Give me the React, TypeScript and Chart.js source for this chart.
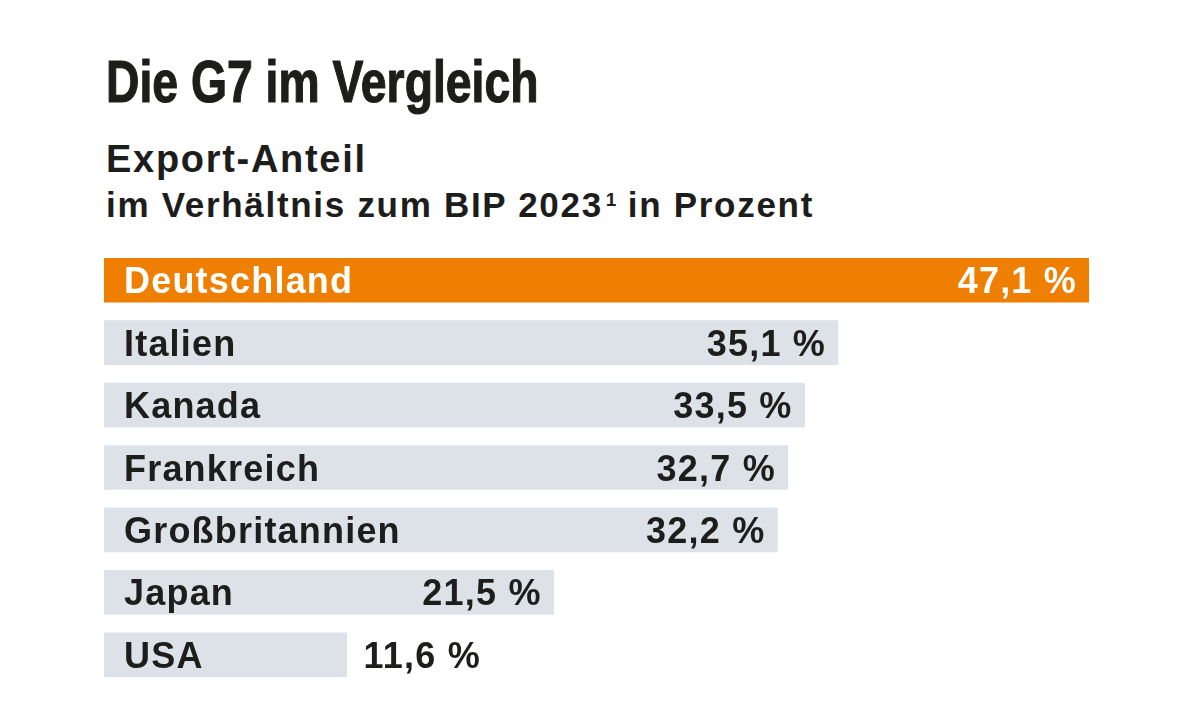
import React, { useEffect, useRef } from "react";
import { Chart, registerables } from "chart.js";

Chart.register(...registerables);

const categories = ["Deutschland", "Italien", "Kanada", "Frankreich", "Großbritannien", "Japan", "USA"];
const values = [47.1, 35.1, 33.5, 32.7, 32.2, 21.5, 11.6];
const valueLabels = ["47,1 %", "35,1 %", "33,5 %", "32,7 %", "32,2 %", "21,5 %", "11,6 %"];
const highlight = "Deutschland";

const ORANGE = "#EE7F00";
const GREY = "#DDE1E8";
const INK = "#1D1D1B";
const FONT = "'Liberation Sans', Arial, sans-serif";

const labelPlugin = {
  id: "barLabels",
  afterDatasetsDraw(chart: any) {
    const ctx = chart.ctx as CanvasRenderingContext2D;
    const meta = chart.getDatasetMeta(0);
    ctx.save();
    ctx.font = `bold 36px ${FONT}`;
    ctx.textBaseline = "alphabetic";
    meta.data.forEach((bar: any, i: number) => {
      const isHi = categories[i] === highlight;
      const base = bar.base;
      const end = bar.x;
      const yBase = bar.y + 13;
      (ctx as any).letterSpacing = "1.2px";
      ctx.fillStyle = isHi ? "#FFFFFF" : INK;
      ctx.textAlign = "left";
      ctx.fillText(categories[i], base + 20, yBase);
      const labelW = ctx.measureText(categories[i]).width;
      (ctx as any).letterSpacing = "1.2px";
      const txt = valueLabels[i];
      const w = ctx.measureText(txt).width;
      const rightX = end - 12;
      if (rightX - w < base + 20 + labelW + 20) {
        ctx.fillStyle = INK;
        ctx.textAlign = "left";
        ctx.fillText(txt, end + 17, yBase);
      } else {
        ctx.textAlign = "right";
        ctx.fillText(txt, rightX, yBase);
      }
    });
    ctx.restore();
  },
};

export default function App() {
  const ref = useRef<HTMLCanvasElement | null>(null);

  useEffect(() => {
    document.body.style.margin = "0";
    document.body.style.background = "#FFFFFF";
    if (!ref.current) return;
    const chart = new Chart(ref.current, {
      type: "bar",
      data: {
        labels: categories,
        datasets: [
          {
            data: values,
            backgroundColor: categories.map((c) => (c === highlight ? ORANGE : GREY)),
            borderWidth: 0,
            barThickness: 44,
          },
        ],
      },
      options: {
        indexAxis: "y",
        responsive: false,
        animation: false,
        devicePixelRatio: 1,
        layout: { padding: { left: 104, right: 111, top: 249, bottom: 31 } },
        scales: {
          x: { display: false, min: 0, max: 47.1 },
          y: { display: false },
        },
        plugins: {
          legend: { display: false },
          tooltip: { enabled: false },
          title: { display: false },
        },
      },
      plugins: [labelPlugin],
    } as any);
    return () => chart.destroy();
  }, []);

  return (
    <div style={{ position: "fixed", left: 0, top: 0, width: 1200, height: 717, background: "#fff", overflow: "hidden" }}>
      <div
        style={{
          position: "absolute",
          left: 106,
          top: 53,
          fontFamily: FONT,
          fontWeight: 700,
          fontSize: 59,
          lineHeight: "59px",
          color: INK,
          whiteSpace: "nowrap",
          transform: "scaleX(0.785)",
          transformOrigin: "left top",
          WebkitTextStroke: `1.2px ${INK}`,
        }}
      >
        Die G7 im Vergleich
      </div>
      <div
        style={{
          position: "absolute",
          left: 106,
          top: 140,
          fontFamily: FONT,
          fontWeight: 700,
          fontSize: 38,
          lineHeight: "38px",
          letterSpacing: "1.7px",
          color: INK,
          whiteSpace: "nowrap",
        }}
      >
        Export-Anteil
      </div>
      <div
        style={{
          position: "absolute",
          left: 106,
          top: 187,
          fontFamily: FONT,
          fontWeight: 700,
          fontSize: 35,
          lineHeight: "35px",
          letterSpacing: "1.7px",
          color: INK,
          whiteSpace: "nowrap",
        }}
      >
        im Verhältnis zum BIP 2023
        <span style={{ fontSize: 19, position: "relative", top: -11, letterSpacing: 0, marginLeft: 3 }}>1</span> in Prozent
      </div>
      <canvas ref={ref} width={1200} height={717} style={{ position: "absolute", left: 0, top: 0, width: 1200, height: 717 }} />
    </div>
  );
}
